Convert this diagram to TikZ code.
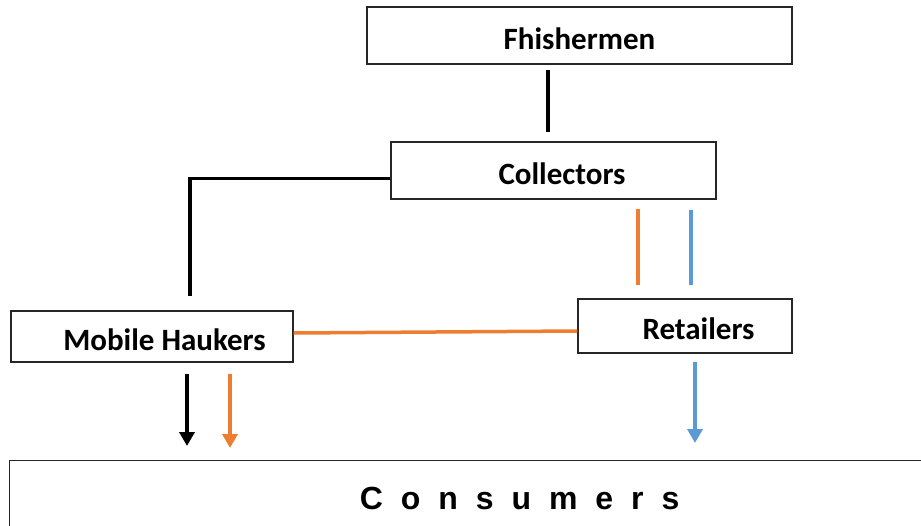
\documentclass[tikz,border=0pt]{standalone}
\usepackage{fontspec}
\setmainfont{Carlito}
\newfontfamily\consfont[LetterSpace=56]{Liberation Sans}
\usetikzlibrary{arrows.meta}
\usetikzlibrary{positioning}
\definecolor{mOrange}{HTML}{ED7D31}
\definecolor{mBlue}{HTML}{5B9BD5}
\tikzset{
  actor/.style={draw=black!85,line width=1.3pt,fill=white,inner sep=0pt,
    text height=27pt,text depth=0pt,font=\fontsize{31}{36}\selectfont\bfseries},
  link/.style={line width=3.5pt},
  flow/.style={line width=3.5pt,-{Triangle[width=15pt,length=14pt]}}
}

\begin{document}
\begin{tikzpicture}[x=1pt,y=-1pt]
    \clip (0,0) rectangle (921,525);
    \node[actor,minimum width=425pt,minimum height=57pt] (fish) at (579.5,35.5) {Fhishermen};
    \node[actor,minimum width=325pt,minimum height=57pt] (coll) at (553.5,170.5) {\hspace*{17pt}Collectors};
    \node[actor,minimum width=282pt,minimum height=51pt] (mob) at (152,336.5) {\hspace*{25pt}Mobile Haukers};
    \node[actor,minimum width=214pt,minimum height=54pt] (ret) at (685,326) {\hspace*{27pt}Retailers};
    \node[actor,font=\consfont\fontsize{32}{36}\selectfont\bfseries,
      minimum width=1020pt,minimum height=70pt,anchor=north west] (cons) at (9,460) {Consumers};
    % black links
    \draw[link] ([xshift=-31.5pt,yshift=-5pt]fish.south) -- ([xshift=-5.5pt,yshift=9pt]coll.north);
    \draw[link] ([yshift=-8pt]coll.west) -| ([xshift=38pt,yshift=14pt]mob.north);
    % collectors to retailers
    \draw[link,mOrange] ([xshift=84.5pt,yshift=-9pt]coll.south) -- ([xshift=-47pt,yshift=13pt]ret.north);
    \draw[link,mBlue] ([xshift=137.5pt,yshift=-10pt]coll.south) -- ([xshift=6pt,yshift=13pt]ret.north);
    \draw[link,mOrange] ([yshift=3.5pt]mob.east) -- ([yshift=-5pt]ret.west);
    % to consumers
    \draw[flow,shorten >=14pt] ([xshift=35pt,yshift=-11pt]mob.south) coordinate (a1) -- (a1 |- cons.north);
    \draw[flow,mOrange,shorten >=12pt] ([xshift=78pt,yshift=-11pt]mob.south) coordinate (a2) -- (a2 |- cons.north);
    \draw[flow,mBlue,shorten >=17pt] ([xshift=10pt,yshift=-8pt]ret.south) coordinate (a3) -- (a3 |- cons.north);
\end{tikzpicture}
\end{document}
